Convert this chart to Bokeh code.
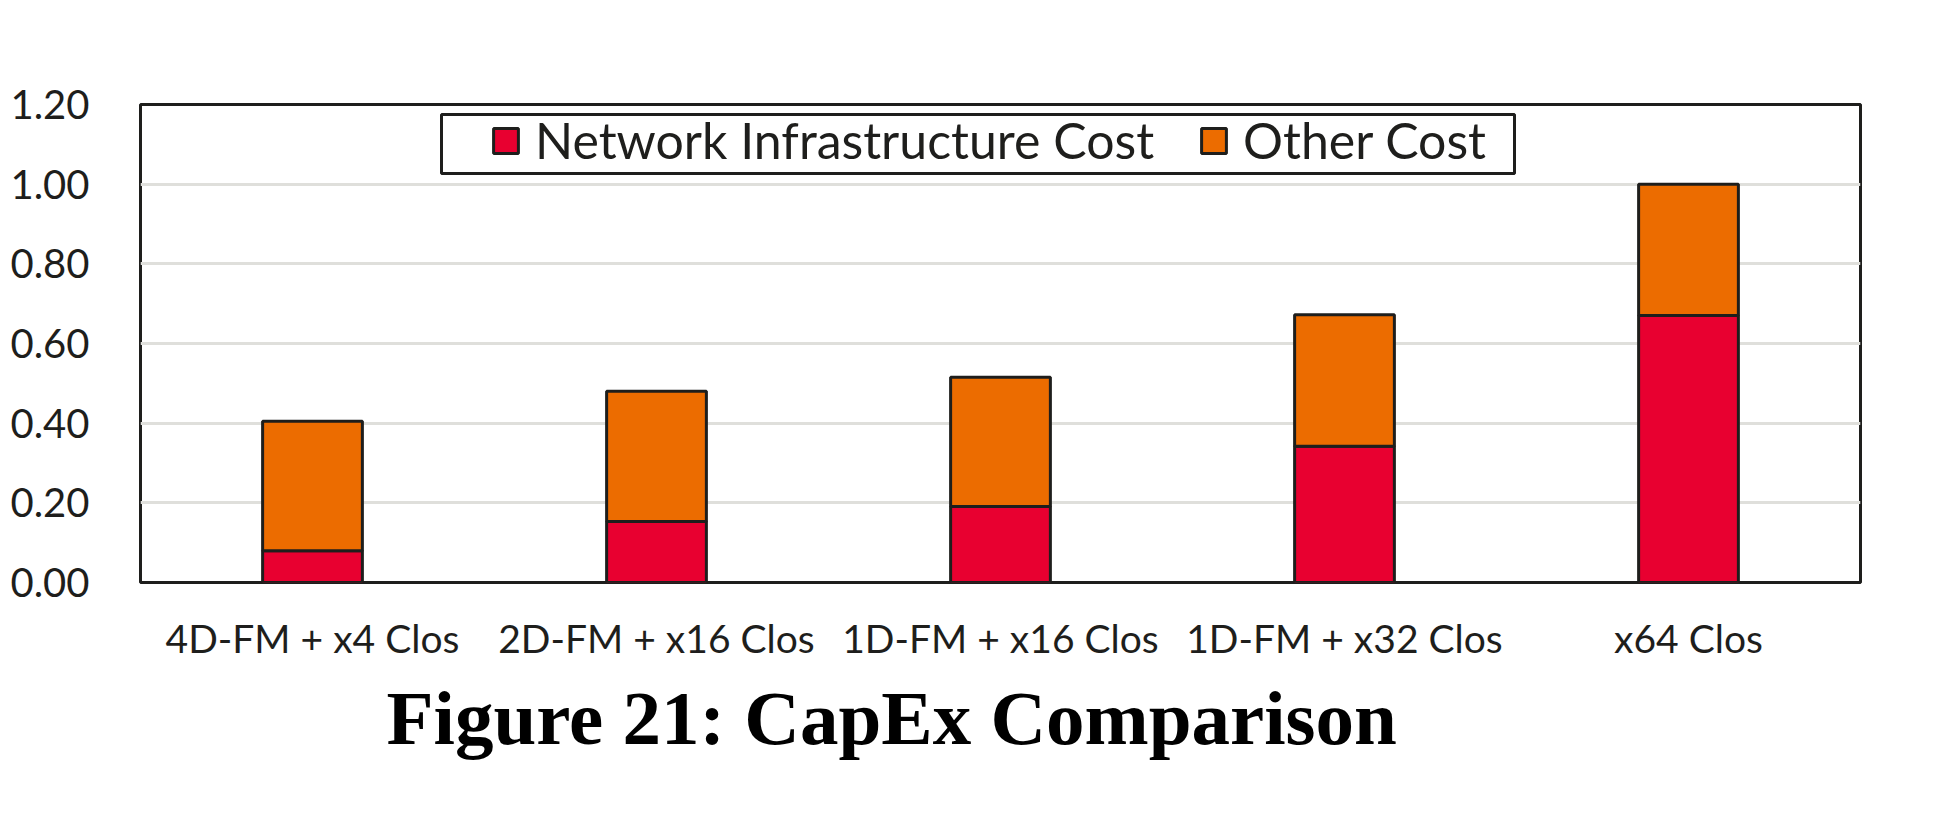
from bokeh.plotting import figure
from bokeh.models import (FactorRange, FixedTicker, NumeralTickFormatter,
                          Legend, LegendItem, Title, BoxAnnotation)
from bokeh.embed import file_html
from bokeh.resources import INLINE

# Normalised capital expenditure per topology
categories = ["4D-FM + x4 Clos", "2D-FM + x16 Clos", "1D-FM + x16 Clos",
              "1D-FM + x32 Clos", "x64 Clos"]
network_cost = [0.080, 0.153, 0.191, 0.342, 0.670]
other_cost = [0.325, 0.327, 0.324, 0.330, 0.330]
y_ticks = [0.0, 0.2, 0.4, 0.6, 0.8, 1.0, 1.2]

series = ["network", "other"]
series_labels = ["Network Infrastructure Cost", "Other Cost"]
colors = ["#e80030", "#ec6c00"]
edge = "#1e1e1c"

data = dict(cat=categories, network=network_cost, other=other_cost)

p = figure(x_range=FactorRange(*categories), y_range=(0, 1.2),
           width=1940, height=840, output_backend="svg",
           toolbar_location=None, tools="",
           min_border_left=140, min_border_right=80,
           min_border_top=104, min_border_bottom=258,
           background_fill_color="white", border_fill_color="white")

renderers = p.vbar_stack(series, x="cat", width=0.29, source=data,
                         fill_color=colors, line_color=edge, line_width=3)

# frame and grid
p.outline_line_color = edge
p.outline_line_width = 3
p.xgrid.grid_line_color = None
p.ygrid.grid_line_color = "#dfdfdb"
p.ygrid.grid_line_width = 3

# value axis
p.yaxis.ticker = FixedTicker(ticks=y_ticks)
p.yaxis.formatter = NumeralTickFormatter(format="0.00")
p.yaxis.axis_line_color = None
p.yaxis.major_tick_line_color = None
p.yaxis.minor_tick_line_color = None
p.yaxis.major_tick_out = 0
p.yaxis.major_tick_in = 0
p.yaxis.major_label_text_font = "Lato"
p.yaxis.major_label_text_font_size = "40px"
p.yaxis.major_label_text_color = "#1e1e1c"
p.yaxis.major_label_standoff = 51

# category axis
p.xaxis.axis_line_color = None
p.xaxis.major_tick_line_color = None
p.xaxis.minor_tick_line_color = None
p.xaxis.major_tick_out = 0
p.xaxis.major_tick_in = 0
p.xaxis.major_label_text_font = "Lato"
p.xaxis.major_label_text_font_size = "39px"
p.xaxis.major_label_text_color = "#1e1e1c"
p.xaxis.major_label_standoff = 32

# legend frame (wider margin on the left than on the right)
legend_frame = BoxAnnotation(left=301, right=1374, top=468, bottom=409,
                             left_units="screen", right_units="screen",
                             top_units="screen", bottom_units="screen",
                             fill_color="white", fill_alpha=1.0,
                             line_color=edge, line_width=3, line_alpha=1.0)
p.add_layout(legend_frame)

legend = Legend(items=[LegendItem(label=lab, renderers=[r])
                       for lab, r in zip(series_labels, renderers)],
                orientation="horizontal", location=(350, 412),
                label_text_font="Lato", label_text_font_size="50px",
                label_text_color="#1e1e1c",
                glyph_width=31, glyph_height=31, label_standoff=14,
                spacing=44, padding=0, margin=0,
                border_line_color=None,
                background_fill_alpha=0.0)
p.add_layout(legend)

caption = Title(text="Figure 21: CapEx Comparison", align="left",
                offset=246, text_font="Liberation Serif",
                text_font_style="bold", text_font_size="77px",
                text_color="black", standoff=18)
p.add_layout(caption, "below")

open("out.html", "w").write(file_html(p, INLINE))
